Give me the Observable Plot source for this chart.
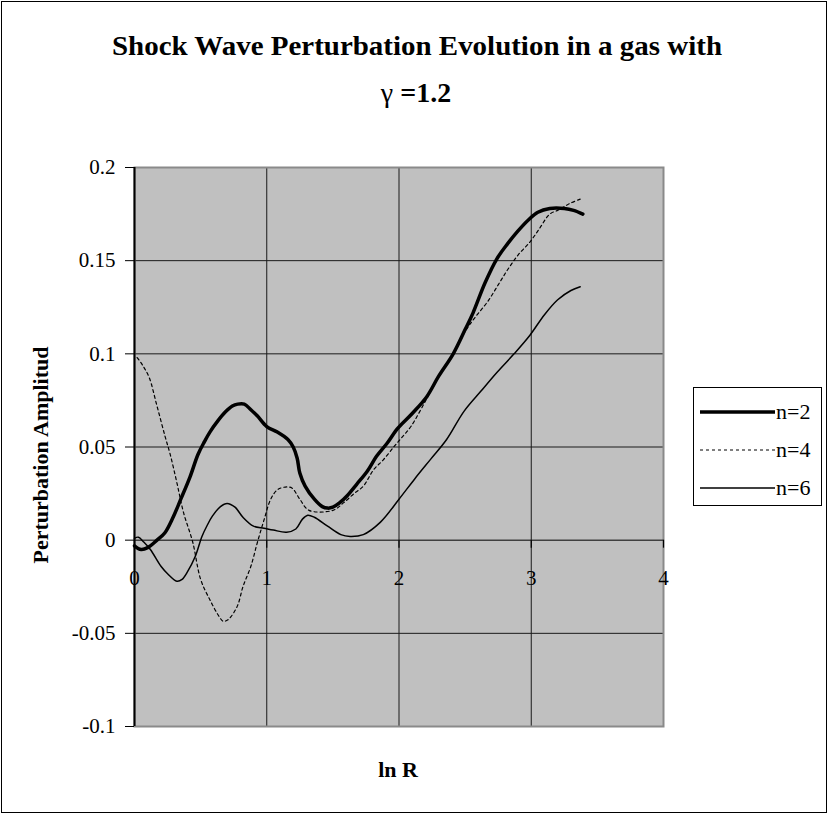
<!DOCTYPE html>
<html>
<head>
<meta charset="utf-8">
<script src="https://cdn.jsdelivr.net/npm/d3@7"></script>
<script src="https://cdn.jsdelivr.net/npm/@observablehq/plot@0.6"></script>
<style>
  body { margin: 0; background: #fff; font-family: "Liberation Serif", serif; }
  #wrap { position: relative; width: 829px; height: 815px; overflow: hidden; background: #fff; }
  #border { position: absolute; left: 1px; top: 1px; width: 824px; height: 810px; border: 1px solid #000; }
  #chart { position: absolute; left: 0; top: 0; }
  #overlay { position: absolute; left: 0; top: 0; pointer-events: none; }
</style>
</head>
<body>
<div id="wrap">
  <div id="border"></div>
  <div id="chart"></div>
  <svg id="overlay" width="829" height="815"></svg>
</div>
<script>
// ---- data ----
const xTicks = [0, 1, 2, 3, 4];
const xTickLabels = ["0", "1", "2", "3", "4"];
const yTicks = [0.2, 0.15, 0.1, 0.05, 0, -0.05, -0.1];
const yTickLabels = ["0.2", "0.15", "0.1", "0.05", "0", "-0.05", "-0.1"];
const xGrid = [1, 2, 3];
const yGrid = [0.15, 0.1, 0.05, -0.05];

const seriesNames = ["n=2", "n=4", "n=6"];

const n2X = [0.0, 0.05, 0.1, 0.17, 0.23, 0.29, 0.35, 0.42, 0.48, 0.53, 0.57, 0.63, 0.69, 0.74, 0.78, 0.83, 0.88, 0.93, 1.0, 1.08, 1.16, 1.2, 1.23, 1.25, 1.29, 1.36, 1.42, 1.46, 1.5, 1.55, 1.61, 1.68, 1.76, 1.83, 1.91, 1.99, 2.1, 2.21, 2.3, 2.41, 2.5, 2.56, 2.65, 2.74, 2.82, 2.9, 2.98, 3.05, 3.14, 3.25, 3.32, 3.39];
const n2Y = [-0.003, -0.005, -0.004, 0.0, 0.004, 0.012, 0.022, 0.034, 0.046, 0.053, 0.058, 0.064, 0.069, 0.072, 0.073, 0.073, 0.07, 0.0666, 0.061, 0.058, 0.054, 0.05, 0.044, 0.036, 0.029, 0.022, 0.018, 0.0172, 0.0177, 0.02, 0.024, 0.03, 0.037, 0.045, 0.052, 0.06, 0.068, 0.077, 0.088, 0.1, 0.113, 0.122, 0.138, 0.151, 0.159, 0.166, 0.172, 0.176, 0.178, 0.178, 0.177, 0.175];

const n4X = [0.02, 0.06, 0.11, 0.17, 0.23, 0.27, 0.32, 0.37, 0.44, 0.5, 0.57, 0.64, 0.67, 0.7, 0.73, 0.78, 0.82, 0.88, 0.93, 0.98, 1.03, 1.08, 1.14, 1.19, 1.25, 1.32, 1.5, 1.58, 1.66, 1.73, 1.81, 1.88, 1.96, 2.02, 2.09, 2.21, 2.3, 2.41, 2.5, 2.58, 2.67, 2.75, 2.82, 2.9, 2.99, 3.06, 3.14, 3.2, 3.25, 3.3, 3.37];
const n4Y = [0.098, 0.094, 0.0875, 0.072, 0.056, 0.046, 0.031, 0.015, -0.001, -0.021, -0.032, -0.041, -0.0435, -0.043, -0.041, -0.035, -0.025, -0.014, -0.001, 0.011, 0.022, 0.027, 0.0285, 0.028, 0.022, 0.016, 0.016, 0.02, 0.025, 0.029, 0.038, 0.043, 0.05, 0.055, 0.061, 0.076, 0.088, 0.1, 0.112, 0.12, 0.128, 0.137, 0.145, 0.153, 0.16, 0.167, 0.175, 0.177, 0.179, 0.181, 0.183];

const n6X = [0.0, 0.03, 0.07, 0.12, 0.2, 0.25, 0.32, 0.36, 0.4, 0.46, 0.51, 0.55, 0.59, 0.65, 0.7, 0.76, 0.82, 0.9, 0.98, 1.05, 1.15, 1.22, 1.27, 1.31, 1.36, 1.46, 1.56, 1.63, 1.73, 1.86, 2.0, 2.12, 2.24, 2.36, 2.49, 2.62, 2.74, 2.87, 2.99, 3.1, 3.2, 3.3, 3.37];
const n6Y = [0.001, 0.0016, -0.001, -0.005, -0.014, -0.018, -0.022, -0.021, -0.017, -0.0086, 0.002, 0.008, 0.013, 0.018, 0.0197, 0.0177, 0.0123, 0.0075, 0.0064, 0.0054, 0.0043, 0.006, 0.0113, 0.0134, 0.0123, 0.0075, 0.003, 0.002, 0.003, 0.0097, 0.022, 0.033, 0.0435, 0.054, 0.069, 0.08, 0.09, 0.1, 0.11, 0.121, 0.129, 0.134, 0.136];

// ---- styles ----
const FONT = "Liberation Serif";
const styles = {
  "n=2": {stroke: "#000", strokeWidth: 3.5, dash: null},
  "n=4": {stroke: "#000", strokeWidth: 1.2, dash: "3,3"},
  "n=6": {stroke: "#000", strokeWidth: 1.5, dash: null}
};

const rows = (xs, ys) => xs.map((x, i) => ({x, y: ys[i]}));
const n2 = rows(n2X, n2Y), n4 = rows(n4X, n4Y), n6 = rows(n6X, n6Y);

const chart = Plot.plot({
  width: 829,
  height: 815,
  marginLeft: 134,
  marginRight: 166,
  marginTop: 167,
  marginBottom: 89,
  x: {domain: [0, 4], axis: null},
  y: {domain: [-0.1, 0.2], axis: null},
  style: `background: transparent; font-family: '${FONT}', serif; font-size: 21px; color: #000; overflow: visible;`,
  marks: [
    Plot.frame({fill: "#c0c0c0", stroke: "none"}),
    Plot.gridX(xGrid, {stroke: "#1a1a1a", strokeOpacity: 1, strokeWidth: 1}),
    Plot.gridY(yGrid, {stroke: "#1a1a1a", strokeOpacity: 1, strokeWidth: 1}),
    Plot.frame({stroke: "#8a8a8a", strokeWidth: 2}),
    Plot.ruleY([0], {stroke: "#404040", strokeWidth: 1.5}),
    Plot.ruleX([0], {stroke: "#000", strokeWidth: 2}),
    Plot.axisY(yTicks, {
      anchor: "left", tickSize: 9, tickPadding: 10, stroke: "#000",
      tickFormat: d => yTickLabels[yTicks.indexOf(d)], label: null,
      fontSize: 21, fontFamily: FONT, fill: "#000"
    }),
    Plot.ruleX(xTicks, {x: d => d, y1: 0, y2: 0, insetBottom: -8, stroke: "#000", strokeWidth: 1.2}),
    Plot.text(xTicks, {x: d => d, y: 0, dy: 38, text: d => xTickLabels[xTicks.indexOf(d)], fontSize: 21, fontFamily: FONT, fill: "#000"}),
    Plot.line(n6, {x: "x", y: "y", stroke: styles["n=6"].stroke, strokeWidth: styles["n=6"].strokeWidth, curve: "catmull-rom"}),
    Plot.line(n4, {x: "x", y: "y", stroke: styles["n=4"].stroke, strokeWidth: styles["n=4"].strokeWidth, strokeDasharray: styles["n=4"].dash, curve: "catmull-rom"}),
    Plot.line(n2, {x: "x", y: "y", stroke: styles["n=2"].stroke, strokeWidth: styles["n=2"].strokeWidth, curve: "catmull-rom", strokeLinejoin: "round"})
  ]
});
document.getElementById("chart").appendChild(chart);

// ---- texts and legend overlay ----
const ov = d3.select("#overlay").attr("font-family", FONT);
ov.append("text").attr("x", 417).attr("y", 55).attr("text-anchor", "middle").attr("font-family", FONT)
  .attr("font-size", 28).attr("font-weight", "bold").attr("textLength", 610).attr("lengthAdjust", "spacingAndGlyphs")
  .text("Shock Wave Perturbation Evolution in a gas with");
const t2 = ov.append("text").attr("x", 416).attr("y", 102).attr("text-anchor", "middle").attr("font-size", 28).attr("font-family", FONT);
t2.append("tspan").attr("font-weight", "normal").text("γ");
t2.append("tspan").attr("font-weight", "bold").text(" =1.2");

ov.append("text").attr("transform", "translate(48,455) rotate(-90)").attr("text-anchor", "middle").attr("font-family", FONT)
  .attr("font-size", 22).attr("font-weight", "bold").text("Perturbation Amplitud");
ov.append("text").attr("x", 398).attr("y", 777).attr("text-anchor", "middle").attr("font-family", FONT)
  .attr("font-size", 22).attr("font-weight", "bold").text("ln R");

// legend
ov.append("rect").attr("x", 693.5).attr("y", 387.5).attr("width", 128).attr("height", 118)
  .attr("fill", "#fff").attr("stroke", "#000").attr("stroke-width", 1);
const legY = [412, 450, 488];
seriesNames.forEach((name, i) => {
  const s = styles[name];
  ov.append("line").attr("x1", 700).attr("x2", 775).attr("y1", legY[i]).attr("y2", legY[i])
    .attr("stroke", s.stroke).attr("stroke-width", s.strokeWidth).attr("stroke-dasharray", s.dash);
  ov.append("text").attr("x", 776).attr("y", legY[i] + 7).attr("font-family", FONT).attr("font-size", 22).text(name);
});
</script>
</body>
</html>
